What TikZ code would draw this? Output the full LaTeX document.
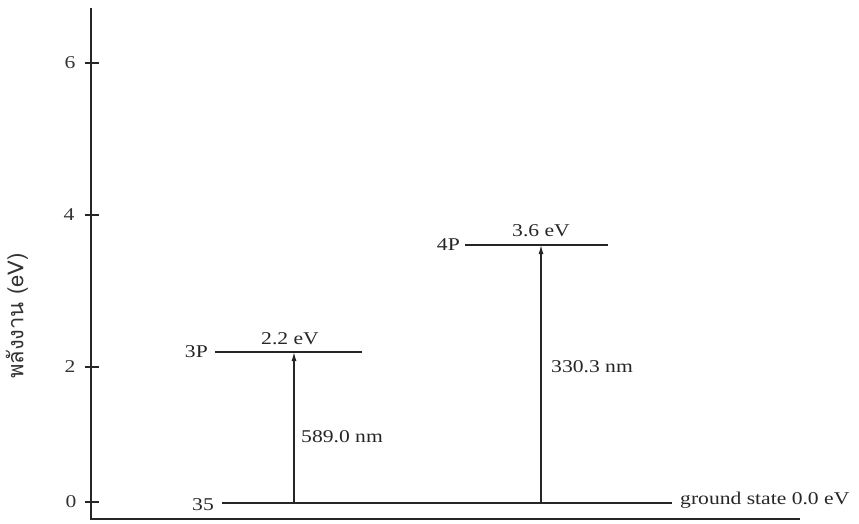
\documentclass[tikz,border=0pt]{standalone}
\usepackage{fontspec}
\setmainfont[FakeStretch=1.2]{Liberation Serif}
\newfontfamily\thaifont[Script=Thai]{Loma}
\usetikzlibrary{arrows.meta}
\begin{document}
\begin{tikzpicture}[x=1pt,y=-1pt,
  axisline/.style={line width=1.5pt, draw=black!85},
  levelline/.style={line width=1.4pt, draw=black!85},
  transarrow/.style={line width=1.2pt, draw=black!85, -{Latex[length=9pt,width=5pt]}},
  lab/.style={font=\fontsize{18}{21}\selectfont, text=black!85, inner sep=0pt},
  ticklab/.style={font=\fontsize{18}{21}\selectfont, text=black!80, inner sep=0pt},
  tickmark/.style={line width=1.1pt, draw=black!85}]
\useasboundingbox (0,0) rectangle (859,524);
% axes
\coordinate (ytop) at (91,8);
\coordinate (orig) at (91,519);
\coordinate (xend) at (800,519);
\draw[axisline] (ytop) -- (orig) -- (xend);
% ticks
\foreach \v/\yy/\xx in {6/63/70,4/215/69,2/367/70,0/502/71}{
  \coordinate (tl\v) at (85,\yy);
  \coordinate (tr\v) at (99,\yy);
  \draw[tickmark] (tl\v) -- (tr\v);
  \node[ticklab] (t\v) at (\xx,\yy) {\v};
}
% y label
\node[rotate=90, font=\thaifont\fontsize{22}{25}\selectfont, text=black!80, inner sep=0pt] (ylab) at (17,316) {พลังงาน (eV)};
% ground level
\coordinate (g1) at (222,503);
\coordinate (g2) at (672,503);
\draw[levelline] (g1) -- (g2);
\node[lab, anchor=east] (l3s) at (214,505) {35};
\node[lab, anchor=west] (lgs) at (680,500) {ground state 0.0 eV};
% 3P level
\coordinate (p1) at (215,352);
\coordinate (p2) at (362,352);
\draw[levelline] (p1) -- (p2);
\node[lab, anchor=east] (l3p) at (208,352) {3P};
\node[lab] (e3p) at (290,339) {2.2 eV};
% 4P level
\coordinate (q1) at (465,245);
\coordinate (q2) at (608,245);
\draw[levelline] (q1) -- (q2);
\node[lab, anchor=east] (l4p) at (460,245) {4P};
\node[lab] (e4p) at (541,231) {3.6 eV};
% transitions
\coordinate (a1s) at (294,503);
\coordinate (a1e) at (294,352);
\draw[transarrow] (a1s) -- (a1e);
\node[lab, anchor=west] (w1) at (301,437) {589.0 nm};
\coordinate (a2s) at (541,503);
\coordinate (a2e) at (541,245);
\draw[transarrow] (a2s) -- (a2e);
\node[lab, anchor=west] (w2) at (551,367) {330.3 nm};
\end{tikzpicture}
\end{document}
